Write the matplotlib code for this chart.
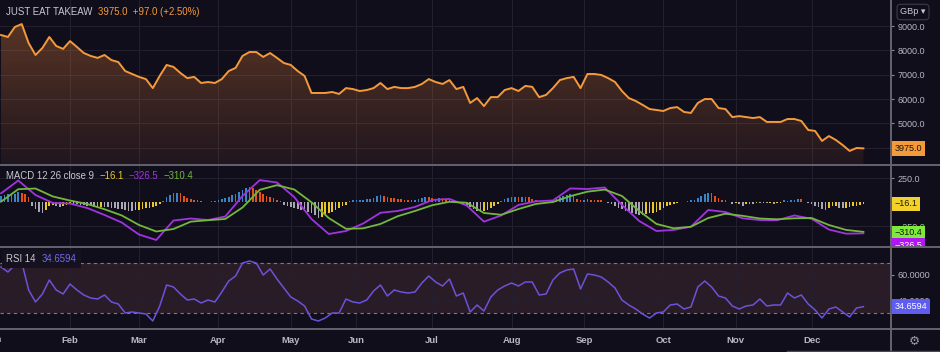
import numpy as np
import matplotlib.pyplot as plt
from matplotlib.lines import Line2D
from matplotlib.transforms import Bbox, TransformedBbox

plt.rcParams['font.family'] = ['Liberation Sans', 'DejaVu Sans']

# Daily close (GBp), one value every 2 sessions, Jan -> Dec 2021
price = [8630, 8550, 8960, 9080, 8300, 7810, 8100, 8550, 8180, 8060,
         8380, 8140, 7890, 7770, 7690, 7810, 7600, 7520, 7150, 7030,
         6910, 6820, 6450, 6950, 7400, 7320, 7070, 6860, 6910, 6660,
         6700, 6660, 6820, 7150, 7280, 7770, 7930, 7930, 7730, 7890,
         7690, 7480, 7400, 7150, 6950, 6250, 6250, 6250, 6290, 6210,
         6450, 6410, 6330, 6370, 6450, 6660, 6410, 6500, 6450, 6450,
         6500, 6620, 6820, 6700, 6620, 6780, 6410, 6500, 5840, 6040,
         5710, 6080, 6080, 6370, 6450, 6330, 6540, 6500, 6080, 6170,
         6450, 6780, 6860, 6910, 6450, 7030, 7030, 6990, 6860, 6700,
         6330, 6040, 5920, 5760, 5590, 5550, 5510, 5630, 5670, 5470,
         5430, 5840, 6000, 6000, 5630, 5590, 5260, 5300, 5260, 5220,
         5260, 5060, 5060, 5060, 5180, 5180, 5100, 4730, 4690, 4280,
         4480, 4320, 4110, 3870, 3990, 3975]

# RSI 14, same sessions as price
rsi = [66.4, 62.4, 68.0, 70.4, 48.0, 38.4, 44.8, 56.0, 48.0, 44.8,
       52.8, 48.0, 44.0, 41.6, 40.8, 44.0, 38.4, 36.8, 29.6, 30.4,
       29.6, 28.8, 23.2, 35.2, 52.0, 50.4, 44.8, 40.0, 40.8, 37.6,
       40.0, 38.4, 46.4, 55.2, 59.2, 69.6, 71.2, 69.6, 60.0, 64.8,
       56.8, 49.6, 42.4, 39.2, 35.2, 24.8, 23.2, 25.6, 29.6, 29.6,
       40.8, 38.4, 37.6, 40.0, 47.2, 52.0, 43.2, 48.0, 46.4, 45.6,
       46.4, 53.6, 59.2, 54.4, 51.2, 56.8, 43.2, 45.6, 30.4, 36.0,
       31.2, 42.4, 48.0, 51.2, 53.6, 51.2, 54.4, 54.4, 44.0, 44.8,
       56.0, 61.6, 64.0, 64.8, 48.8, 60.8, 60.0, 58.4, 54.4, 49.6,
       40.0, 36.0, 32.8, 28.8, 25.6, 29.6, 30.4, 36.0, 36.8, 32.8,
       34.4, 50.4, 55.2, 50.4, 43.2, 41.6, 35.2, 32.8, 35.2, 36.0,
       40.8, 35.2, 36.0, 36.0, 45.6, 41.6, 44.0, 36.8, 32.0, 25.6,
       32.8, 34.4, 30.4, 26.4, 33.6, 34.6594]

# MACD 12 26 9, one value every 5 sessions
macd = [93, 227, 75, -8, -14, -61, -134, -213, -339, -396,
        -192, -171, -187, -150, 65, 231, 206, 54, -176, -333,
        -302, -223, -111, -92, -50, 23, 34, -35, -204, -139,
        -29, 9, 18, 144, 138, 154, -29, -197, -302, -291,
        -257, -82, -103, -169, -187, -189, -139, -174, -287, -330,
        -326.5]
signal = [5, 136, 143, 60, 17, -19, -74, -139, -239, -307,
          -281, -204, -189, -176, -56, 130, 178, 133, -1, -166,
          -279, -274, -228, -147, -92, -32, 4, -6, -113, -132,
          -72, -19, 2, 63, 110, 132, 65, -92, -228, -274,
          -257, -166, -121, -143, -171, -179, -169, -166, -239, -291,
          -310.4]

# MACD histogram, every session
hist = [63, 74, 84, 74, 89, 105, 100, 84, 53, -42,
        -74, -105, -116, -84, -42, -32, -42, -47, -37, -26,
        -21, -16, -21, -26, -32, -37, -42, -47, -53, -47,
        -47, -53, -58, -63, -68, -74, -79, -89, -95, -84,
        -79, -74, -63, -58, -47, -37, -21, 11, 53, 79,
        95, 100, 95, 68, 47, 32, 26, 21, 11, 5,
        5, 11, 16, 21, 32, 42, 58, 74, 89, 105,
        126, 147, 158, 147, 131, 105, 89, 68, 53, 42,
        26, 11, -26, -42, -53, -63, -74, -79, -84, -100,
        -116, -137, -168, -158, -137, -116, -100, -84, -63, -42,
        -26, 11, 21, 26, 26, 26, 32, 32, 42, 63,
        79, 63, 53, 42, 40, 37, 32, 26, 21, 26,
        27, 32, 42, 58, 53, 42, 32, 42, 40, 32,
        21, 16, 11, -5, -26, -42, -53, -74, -89, -105,
        -95, -79, -58, -37, -16, 16, 32, 42, 53, 58,
        53, 55, 57, 53, 32, 24, 7, -3, 3, 7,
        18, 32, 53, 60, 77, 87, 79, 32, 24, 26,
        32, 28, 26, 24, 18, 7, -11, -21, -39, -56,
        -74, -91, -105, -116, -126, -133, -137, -123, -116, -115,
        -100, -81, -63, -45, -28, -18, -11, 7, 6, 16,
        21, 26, 42, 63, 84, 98, 95, 66, 42, 24,
        18, 2, -21, -11, -21, -39, -21, -21, -21, -11,
        -11, -10, -11, -10, -18, -11, -10, 18, 17, 18,
        24, 32, 31, 7, -11, -21, -39, -53, -74, -87,
        -63, -45, -39, -56, -63, -56, -53, -45, -39, -28,
        -16.1]

month_labels = ['Feb', 'Mar', 'Apr', 'May', 'Jun', 'Jul',
                'Aug', 'Sep', 'Oct', 'Nov', 'Dec']
month_start = [20, 40, 63, 84, 103, 125, 148, 169, 192, 213, 235]

price_ticks = [4000, 5000, 6000, 7000, 8000, 9000]
macd_ticks = [-250, 250]
rsi_ticks = [40, 60]

# colours
BG = '#110e1c'
GRID = '#231f2e'
SEP = '#64636f'
TXT = '#b8b8c0'
ORANGE = '#f59a3a'
PURPLE = '#a133e0'
GREEN = '#73b83c'
YELLOW = '#e8c62c'
RSI_C = '#6b52d8'

W, H = 940, 352
fig = plt.figure(figsize=(W / 100, H / 100), dpi=100, facecolor=BG)


def rect(top, bottom, left=0, right=891):
    return [left / W, 1 - bottom / H, (right - left) / W, (bottom - top) / H]


ax_p = fig.add_axes(rect(0, 164))
ax_m = fig.add_axes(rect(166, 246))
ax_r = fig.add_axes(rect(248, 328))

bar_p = np.arange(len(price)) * 2
bar_m = np.arange(len(macd)) * 5
bar_h = np.arange(len(hist))

for ax in (ax_p, ax_m, ax_r):
    ax.set_facecolor(BG)
    for s in ax.spines.values():
        s.set_visible(False)
    ax.yaxis.tick_right()
    ax.tick_params(axis='y', color='#8a8a95', labelcolor=TXT, labelsize=6.5,
                   length=2.5, width=0.8, pad=2.5)
    ax.tick_params(axis='x', length=0, labelbottom=False)
    ax.set_xticks(month_start)
    ax.grid(True, color=GRID, lw=0.8)
    ax.set_axisbelow(True)

# ---- price panel
floor = 3333
poly = ax_p.fill_between(bar_p, price, floor, facecolor='none', edgecolor='none')
grad = np.zeros((200, 1, 4))
grad[..., :3] = (0.96, 0.54, 0.22)
grad[:, 0, 3] = np.linspace(0.07, 0.31, 200)
img = ax_p.imshow(grad, aspect='auto', origin='lower', zorder=1,
                  extent=[bar_p[0], bar_p[-1], floor, max(price)],
                  interpolation='bilinear')
img.set_clip_path(poly.get_paths()[0], transform=ax_p.transData)
ax_p.plot(bar_p, price, color=ORANGE, lw=1.4, zorder=3)
ax_p.set_ylim(floor, 10068)
ax_p.set_yticks(price_ticks)
# the 4000 level sits fully under the last-price tag
ax_p.set_yticklabels([''] + [f'{v:.1f}' for v in price_ticks[1:]])

# ---- MACD panel
cols = []
for i, h in enumerate(hist):
    prev = hist[i - 1] if i else h
    if h >= 0:
        cols.append('#3a84c6' if h >= prev else '#e4521c')
    else:
        cols.append(YELLOW if h > prev else '#a9a8b2')
ax_m.bar(bar_h, hist, width=0.48, color=cols, zorder=2)
ax_m.plot(bar_m, macd, color=PURPLE, lw=1.3, zorder=3)
ax_m.plot(bar_m, signal, color=GREEN, lw=1.3, zorder=4)
ax_m.set_ylim(-459, 379)
ax_m.set_yticks(macd_ticks)
ax_m.set_yticklabels(['\u2212250.0', '250.0'])

# ---- RSI panel
ax_r.axhspan(30, 70, color='#2a1c26', zorder=0.2, lw=0)
for lvl in (30, 70):
    ax_r.axhline(lvl, color='#7d7a86', lw=0.8, ls=(0, (3, 3)), zorder=1)
ax_r.plot(bar_p, rsi, color=RSI_C, lw=1.1, zorder=3)
ax_r.set_ylim(17.6, 81.6)
ax_r.set_yticks(rsi_ticks)
ax_r.set_yticklabels(['40.0000', '60.0000'])
ax_r.set_xticklabels(month_labels)
ax_r.tick_params(axis='x', labelbottom=True, labelsize=6.8, labelcolor=TXT, pad=6)
for t in ax_r.get_xticklabels():
    t.set_fontweight('bold')

for ax in (ax_p, ax_m, ax_r):
    ax.set_xlim(-0.3, 258)

# ---- value tags on the right scale
def tag(ax, y, s, fc, tc, clip=None):
    t = ax.annotate(s, xy=(1, y), xycoords=('axes fraction', 'data'),
                    xytext=(2.6, 0), textcoords='offset points',
                    ha='left', va='center', fontsize=6.5, color=tc,
                    bbox=dict(boxstyle='square,pad=0.3', fc=fc, ec='none'),
                    annotation_clip=False, zorder=6)
    if clip is not None:
        t.set_clip_box(clip)
        t.set_clip_on(True)
    return t


tag(ax_p, price[-1], f'{price[-1]:.1f}', ORANGE, '#1a1410')
tag(ax_m, hist[-1], f'\u2212{abs(hist[-1]):.1f}', '#f2d12c', '#1a1a10')
tag(ax_m, -322, f'\u2212{abs(signal[-1]):.1f}', '#7ee83c', '#10180a')
clip_m = TransformedBbox(Bbox.from_extents(891 / W, 1 - 247 / H, 1, 1 - 166 / H),
                         fig.transFigure)
tag(ax_m, -455, f'\u2212{abs(macd[-1]):.1f}', '#b214f5', 'white', clip=clip_m)
tag(ax_r, rsi[-1], f'{rsi[-1]:.4f}', '#5f5cf0', 'white')


def fx(px):
    return px / W


def fy(py):
    return 1 - py / H


# ---- legends
fig.text(fx(6), fy(12), 'JUST EAT TAKEAW', color='#c8c8d0', fontsize=6.9, va='center')
fig.text(fx(98), fy(12), '3975.0  +97.0 (+2.50%)', color=ORANGE, fontsize=6.9, va='center')

fig.text(fx(6), fy(176), 'MACD 12 26 close 9', color='#c8c8d0', fontsize=6.9, va='center')
fig.text(fx(100), fy(176), '\u221216.1', color=YELLOW, fontsize=6.9, va='center')
fig.text(fx(129), fy(176), '\u2212326.5', color=PURPLE, fontsize=6.9, va='center')
fig.text(fx(164), fy(176), '\u2212310.4', color=GREEN, fontsize=6.9, va='center')

fig.text(fx(6), fy(259), 'RSI 14', color='#c8c8d0', fontsize=6.9, va='center',
         bbox=dict(boxstyle='square,pad=0.45', fc='#15111e', ec='none'))
fig.text(fx(42), fy(259), '34.6594', color='#6f6cf2', fontsize=6.9, va='center',
         bbox=dict(boxstyle='square,pad=0.45', fc='#15111e', ec='none'))

fig.text(fx(-6), fy(340), 'Jan', color=TXT, fontsize=6.8, fontweight='bold',
         ha='center', va='center')

fig.text(fx(913), fy(12), 'GBp \u25be', color='#c8c8d0', fontsize=6.6, ha='center',
         va='center', bbox=dict(boxstyle='round,pad=0.35', fc=BG, ec='#3b3a48', lw=0.8))
fig.text(fx(914), fy(341), '\u2699', color='#9a9aa5', fontsize=9, ha='center',
         va='center', family='DejaVu Sans')

# ---- pane separators
for yy in (165, 247, 329):
    fig.add_artist(Line2D([0, 1], [fy(yy), fy(yy)], color=SEP, lw=1.4,
                          transform=fig.transFigure))
fig.add_artist(Line2D([fx(891), fx(891)], [0, 1], color=SEP, lw=1.4,
                      transform=fig.transFigure))
fig.add_artist(Line2D([fx(787), 1], [fy(351), fy(351)], color='#4a4956', lw=1.0,
                      transform=fig.transFigure))

fig.savefig('out.png', dpi=100, facecolor=BG)
